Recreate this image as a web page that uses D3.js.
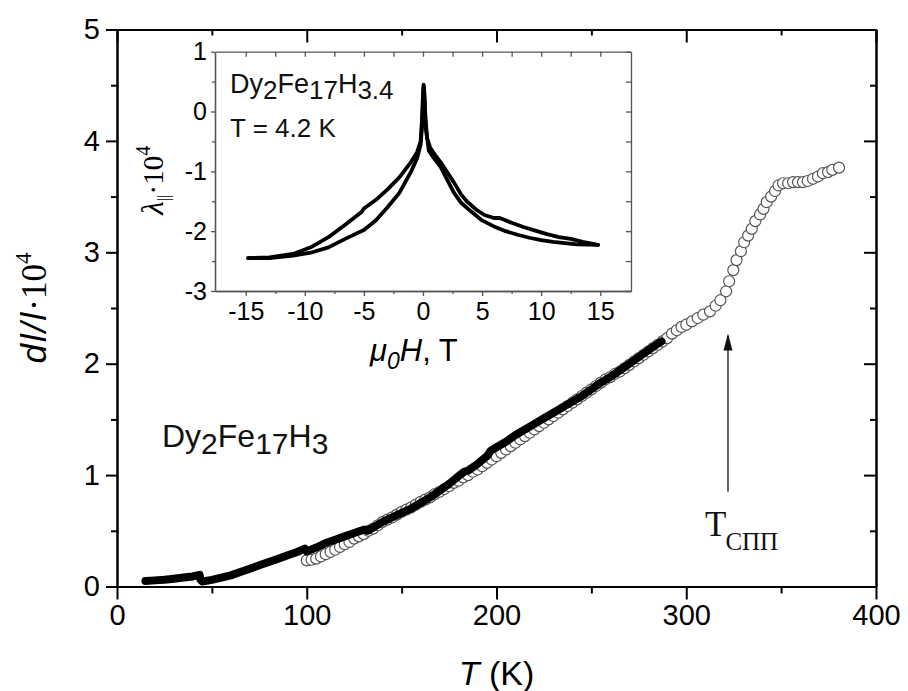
<!DOCTYPE html>
<html>
<head>
<meta charset="utf-8">
<script src="https://cdn.jsdelivr.net/npm/d3@7"></script>
<style>
  html, body { margin: 0; padding: 0; background: #fff; }
  svg { display: block; }
</style>
</head>
<body>
<script>
// Thermal expansion dl/l of Dy2Fe17H3 vs temperature (open circles: heating run,
// thick black trace: second run), with an inset magnetostriction loop at 4.2 K.

// ---- main plot: filled trace ----
const traceT = [15, 20, 25, 30, 35, 40, 43.5, 44, 45, 50, 55, 60, 65, 70, 75, 80, 85, 90, 95, 99,
  100, 105, 110, 115, 120, 125, 130, 132, 135, 140, 145, 150, 155, 160, 165, 170, 175, 180, 183,
  185, 190, 195, 197, 200, 205, 210, 215, 220, 225, 230, 235, 240, 245, 250, 255, 260, 265, 270,
  275, 280, 285, 287];
const traceV = [0.05, 0.055, 0.06, 0.07, 0.08, 0.09, 0.105, 0.06, 0.045, 0.06, 0.08, 0.10, 0.13,
  0.16, 0.19, 0.22, 0.25, 0.28, 0.31, 0.34, 0.315, 0.35, 0.39, 0.42, 0.45, 0.48, 0.51, 0.50, 0.53,
  0.58, 0.62, 0.66, 0.70, 0.75, 0.80, 0.86, 0.92, 0.99, 1.03, 1.04, 1.10, 1.17, 1.22, 1.25, 1.30,
  1.36, 1.41, 1.46, 1.51, 1.56, 1.61, 1.66, 1.71, 1.77, 1.83, 1.88, 1.94, 2.00, 2.06, 2.12, 2.18, 2.20];

// ---- main plot: open circles ----
const circT = [100, 102.5, 105, 107.5, 110, 112.5, 115, 117.5, 120, 122.5, 125, 127.5, 130, 132.5,
  135, 137.5, 140, 142.5, 145, 147.5, 150, 152.5, 155, 157.5, 160, 162.5, 165, 167.5, 170, 172.5,
  175, 177.5, 180, 182.5, 185, 187.5, 190, 192.5, 195, 197.5, 200, 202.5, 205, 207.5, 210, 212.5,
  215, 217.5, 220, 222.5, 225, 227.5, 230, 232.5, 235, 237.5, 240, 242.5, 245, 247.5, 250, 252.5,
  255, 257.5, 260, 262.5, 265, 267.5, 270, 272.5, 275, 277.5, 280, 282.5, 285, 287.5, 290, 292.5,
  295, 297.5, 300, 303, 306, 309, 312.5, 315.5, 318, 321, 322.6, 324.8, 326.5, 328.8, 330.5, 332.6,
  334.5, 336.4, 338.9, 340.7, 342.4, 344.7, 346.8, 348.6, 351, 353.7, 356.3, 358.9, 361.5, 364,
  366.8, 369.4, 372, 374.7, 377, 380.5];
const circV = [0.235, 0.24, 0.25, 0.27, 0.29, 0.31, 0.33, 0.355, 0.38, 0.40, 0.43, 0.45, 0.47, 0.50,
  0.52, 0.55, 0.58, 0.60, 0.62, 0.645, 0.67, 0.69, 0.71, 0.735, 0.76, 0.78, 0.80, 0.83, 0.85, 0.875,
  0.90, 0.93, 0.95, 0.98, 1.00, 1.03, 1.05, 1.08, 1.11, 1.14, 1.17, 1.20, 1.23, 1.26, 1.29, 1.32,
  1.35, 1.38, 1.41, 1.44, 1.47, 1.50, 1.53, 1.56, 1.59, 1.62, 1.65, 1.68, 1.71, 1.74, 1.77, 1.80,
  1.83, 1.86, 1.88, 1.91, 1.93, 1.96, 1.99, 2.02, 2.05, 2.08, 2.11, 2.14, 2.17, 2.20, 2.23, 2.27,
  2.30, 2.33, 2.35, 2.38, 2.41, 2.44, 2.47, 2.52, 2.57, 2.65, 2.74, 2.84, 2.93, 3.01, 3.09, 3.15,
  3.21, 3.28, 3.34, 3.39, 3.45, 3.50, 3.55, 3.60, 3.62, 3.62, 3.63, 3.63, 3.63, 3.64, 3.66, 3.68,
  3.71, 3.72, 3.74, 3.76];

// ---- main axes ----
const xTicks = [0, 100, 200, 300, 400];
const xMinor = [50, 150, 250, 350];
const yTicks = [0, 1, 2, 3, 4, 5];
const yMinor = [0.5, 1.5, 2.5, 3.5, 4.5];

// ---- inset: magnetostriction loop, two branches ----
const branchAH = [-14.8, -13, -11, -9.5, -8, -6.5, -5.2, -5, -4, -3, -2, -1, -0.5, -0.2, -0.08, 0, 0.05,
  0.12, 0.2, 0.35, 0.6, 1, 1.5, 2, 2.6, 3.2, 3.7, 4.5, 5.2, 6, 6.5, 7.5, 8.5, 9.5, 10.5, 11.5, 12.5, 13.5, 14.8];
const branchAL = [-2.45, -2.44, -2.38, -2.27, -2.10, -1.88, -1.68, -1.62, -1.48, -1.30, -1.10, -0.84,
  -0.68, -0.50, -0.10, 0.30, 0.45, 0.30, -0.10, -0.45, -0.60, -0.72, -0.85, -1.00, -1.18, -1.38, -1.50,
  -1.64, -1.73, -1.78, -1.78, -1.86, -1.93, -1.99, -2.05, -2.10, -2.13, -2.18, -2.23];
const branchBH = [-14.8, -13, -11, -9.5, -8, -6.5, -5, -4, -3, -2, -1, -0.5, -0.2, -0.06, 0.02, 0.06,
  0.15, 0.25, 0.5, 1, 1.5, 2, 2.6, 3.2, 4, 5, 6, 7, 8, 9, 10, 11, 12, 13, 14.8];
const branchBL = [-2.45, -2.45, -2.41, -2.36, -2.27, -2.12, -1.98, -1.82, -1.60, -1.36, -1.00, -0.78,
  -0.55, -0.20, 0.30, 0.42, 0.10, -0.30, -0.66, -0.80, -0.93, -1.12, -1.35, -1.52, -1.66, -1.82,
  -1.92, -2.00, -2.06, -2.11, -2.15, -2.18, -2.20, -2.22, -2.23];

const insetXTicks = [-15, -10, -5, 0, 5, 10, 15];
const insetXMinor = [-12.5, -7.5, -2.5, 2.5, 7.5, 12.5];
const insetYTicks = [-3, -2, -1, 0, 1];
const insetYMinor = [-2.5, -1.5, -0.5, 0.5];

const W = 908, H = 691;
const svg = d3.select("body").append("svg").attr("width", W).attr("height", H);

const x = d3.scaleLinear().domain([0, 400]).range([117, 876]);
const y = d3.scaleLinear().domain([0, 5]).range([586.5, 29.5]);

const SANS = '"Liberation Sans", Arial, sans-serif';
const SERIF = '"Liberation Serif", "Times New Roman", serif';
const fmt = d => String(d);   // plain hyphen minus, as printed on the axes

function styleAxis(g, width, color) {
  g.selectAll("path.domain").attr("stroke", color).attr("stroke-width", width);
  g.selectAll(".tick line").attr("stroke", color).attr("stroke-width", width);
  g.selectAll("text").attr("fill", "#000").style("font-family", SANS);
}

// bottom axis
const gB = svg.append("g").attr("transform", `translate(0,${y(0)})`);
gB.call(d3.axisBottom(x).tickValues(xTicks).tickSizeInner(13).tickSizeOuter(0).tickPadding(5).tickFormat(fmt))
  .call(g => g.selectAll("text").style("font-size", "29px"));
styleAxis(gB, 2, "#000");
const gBm = svg.append("g").attr("transform", `translate(0,${y(0)})`);
gBm.call(d3.axisBottom(x).tickValues(xMinor).tickSizeInner(7).tickSizeOuter(0).tickFormat(""));
styleAxis(gBm, 2, "#000");

// top axis (ticks inward)
const gT = svg.append("g").attr("transform", `translate(0,${y(5)})`);
gT.call(d3.axisTop(x).tickValues(xTicks).tickSizeInner(-13).tickSizeOuter(0).tickFormat(""));
styleAxis(gT, 2, "#000");
const gTm = svg.append("g").attr("transform", `translate(0,${y(5)})`);
gTm.call(d3.axisTop(x).tickValues(xMinor).tickSizeInner(-6).tickSizeOuter(0).tickFormat(""));
styleAxis(gTm, 2, "#000");

// left axis
const gL = svg.append("g").attr("transform", `translate(${x(0)},0)`);
gL.call(d3.axisLeft(y).tickValues(yTicks).tickSizeInner(11).tickSizeOuter(0).tickPadding(6).tickFormat(fmt))
  .call(g => g.selectAll("text").style("font-size", "29px"));
styleAxis(gL, 2, "#000");
const gLm = svg.append("g").attr("transform", `translate(${x(0)},0)`);
gLm.call(d3.axisLeft(y).tickValues(yMinor).tickSizeInner(6).tickSizeOuter(0).tickFormat(""));
styleAxis(gLm, 2, "#000");

// right axis (ticks inward)
const gR = svg.append("g").attr("transform", `translate(${x(400)},0)`);
gR.call(d3.axisRight(y).tickValues(yTicks).tickSizeInner(-12).tickSizeOuter(0).tickFormat(""));
styleAxis(gR, 2, "#000");
const gRm = svg.append("g").attr("transform", `translate(${x(400)},0)`);
gRm.call(d3.axisRight(y).tickValues(yMinor).tickSizeInner(-6).tickSizeOuter(0).tickFormat(""));
styleAxis(gRm, 2, "#000");

// open circles
const circData = circT.map((t, i) => ({ t, v: circV[i] }));
svg.append("g").selectAll("circle").data(circData).join("circle")
  .attr("cx", d => x(d.t)).attr("cy", d => y(d.v)).attr("r", 5.5)
  .attr("fill", "#fff").attr("stroke", "#555").attr("stroke-width", 1.2);

// thick black trace
const traceData = traceT.map((t, i) => ({ t, v: traceV[i] }));
svg.append("path").datum(traceData)
  .attr("d", d3.line().x(d => x(d.t)).y(d => y(d.v)))
  .attr("fill", "none").attr("stroke", "#000").attr("stroke-width", 8)
  .attr("stroke-linejoin", "round").attr("stroke-linecap", "round");

// axis titles
const yTitle = svg.append("text").attr("transform", `translate(46,${y(2.5)}) rotate(-90)`)
  .attr("text-anchor", "middle").attr("fill", "#000");
yTitle.append("tspan").style("font-family", SANS).style("font-style", "italic").style("font-size", "35px")
  .attr("letter-spacing", "2").text("dl/l");
yTitle.append("tspan").style("font-family", SERIF).style("font-size", "35px").text("·10");
yTitle.append("tspan").style("font-family", SERIF).style("font-size", "23px").attr("dy", -15).text("4");

const xTitle = svg.append("text").attr("x", x(200)).attr("y", 685).attr("text-anchor", "middle")
  .attr("fill", "#000").style("font-family", SANS).style("font-size", "34px");
xTitle.append("tspan").style("font-style", "italic").text("T");
xTitle.append("tspan").text(" (K)");

// compound label
function formula(parent, px, py, parts, big, small, shift) {
  const t = parent.append("text").attr("x", px).attr("y", py).attr("fill", "#111")
    .style("font-family", SANS);
  let cur = 0;
  parts.forEach(([s, sub]) => {
    const dy = sub ? shift - cur : -cur;
    t.append("tspan").attr("dy", dy).style("font-size", (sub ? small : big) + "px").text(s);
    cur = sub ? shift : 0;
  });
  return t;
}
formula(svg, 162, 447, [["Dy", 0], ["2", 1], ["Fe", 0], ["17", 1], ["H", 0], ["3", 1]], 32, 30, 7);

// transition arrow and label
const arrowT = 322;
svg.append("line").attr("x1", x(arrowT)).attr("x2", x(arrowT))
  .attr("y1", y(0.85)).attr("y2", y(2.27) + 2)
  .attr("stroke", "#222").attr("stroke-width", 1.4);
svg.append("path").attr("d", `M${x(arrowT) - 4.5},${y(2.27) + 17} L${x(arrowT)},${y(2.27)} L${x(arrowT) + 4.5},${y(2.27) + 17} Z`)
  .attr("fill", "#111");
const tLab = svg.append("text").attr("x", 705).attr("y", 536).attr("fill", "#111").style("font-family", SERIF);
tLab.append("tspan").style("font-size", "35px").text("T");
tLab.append("tspan").attr("dy", 14).attr("dx", -1).style("font-size", "25px").text("СПП");

// ---- inset ----
const ix = d3.scaleLinear().domain([-17.6, 17.6]).range([215, 631]);
const iy = d3.scaleLinear().domain([-3, 1]).range([291, 51.7]);
const inset = svg.append("g");
inset.append("rect").attr("x", ix(-17.6)).attr("y", iy(1)).attr("width", ix(17.6) - ix(-17.6))
  .attr("height", iy(-3) - iy(1)).attr("fill", "#fff");

const ICOL = "#555";
const iB = inset.append("g").attr("transform", `translate(0,${iy(-3)})`);
iB.call(d3.axisBottom(ix).tickValues(insetXTicks).tickSizeInner(5).tickSizeOuter(0).tickPadding(6).tickFormat(fmt))
  .call(g => g.selectAll("text").style("font-size", "25px"));
styleAxis(iB, 1.3, ICOL);
const iBm = inset.append("g").attr("transform", `translate(0,${iy(-3)})`);
iBm.call(d3.axisBottom(ix).tickValues(insetXMinor).tickSizeInner(3).tickSizeOuter(0).tickFormat(""));
styleAxis(iBm, 1.3, ICOL);
const iT = inset.append("g").attr("transform", `translate(0,${iy(1)})`);
iT.call(d3.axisTop(ix).tickValues(insetXTicks.concat(insetXMinor)).tickSizeInner(-5).tickSizeOuter(0).tickFormat(""));
styleAxis(iT, 1.3, ICOL);
const iL = inset.append("g").attr("transform", `translate(${ix(-17.6)},0)`);
iL.call(d3.axisLeft(iy).tickValues(insetYTicks).tickSizeInner(4).tickSizeOuter(0).tickPadding(4).tickFormat(fmt))
  .call(g => g.selectAll("text").style("font-size", "25px"));
styleAxis(iL, 1.3, ICOL);
const iLm = inset.append("g").attr("transform", `translate(${ix(-17.6)},0)`);
iLm.call(d3.axisLeft(iy).tickValues(insetYMinor).tickSizeInner(3).tickSizeOuter(0).tickFormat(""));
styleAxis(iLm, 1.3, ICOL);
const iR = inset.append("g").attr("transform", `translate(${ix(17.6)},0)`);
iR.call(d3.axisRight(iy).tickValues(insetYTicks.concat(insetYMinor)).tickSizeInner(-5).tickSizeOuter(0).tickFormat(""));
styleAxis(iR, 1.3, ICOL);

[[branchAH, branchAL], [branchBH, branchBL]].forEach(([hs, ls]) => {
  const data = hs.map((h, i) => ({ h, l: ls[i] }));
  inset.append("path").datum(data).attr("d", d3.line().x(d => ix(d.h)).y(d => iy(d.l)))
    .attr("fill", "none").attr("stroke", "#000").attr("stroke-width", 3.8)
    .attr("stroke-linejoin", "round").attr("stroke-linecap", "round");
});

// inset titles
const ixTitle = inset.append("text").attr("x", 370).attr("y", 361).attr("fill", "#000")
  .style("font-family", SANS).style("font-size", "31px");
ixTitle.append("tspan").style("font-style", "italic").text("μ");
ixTitle.append("tspan").style("font-style", "italic").style("font-size", "23px").attr("dy", 8).text("0");
ixTitle.append("tspan").style("font-style", "italic").attr("dy", -8).text("H");
ixTitle.append("tspan").text(", T");

const iyTitle = inset.append("text").attr("transform", `translate(163,${iy(-1.15)}) rotate(-90)`)
  .attr("text-anchor", "middle").attr("fill", "#000").style("font-family", SERIF);
iyTitle.append("tspan").style("font-style", "italic").style("font-size", "31px").text("λ");
iyTitle.append("tspan").style("font-size", "17px").attr("dy", 6).text("||");
iyTitle.append("tspan").style("font-size", "29px").attr("dy", -6).text("·10");
iyTitle.append("tspan").style("font-size", "20px").attr("dy", -13).text("4");

formula(inset, 230, 93, [["Dy", 0], ["2", 1], ["Fe", 0], ["17", 1], ["H", 0], ["3.4", 1]], 27, 26, 6);
inset.append("text").attr("x", 230).attr("y", 137).attr("fill", "#111")
  .style("font-family", SANS).style("font-size", "26px").text("T = 4.2 K");
</script>
</body>
</html>
